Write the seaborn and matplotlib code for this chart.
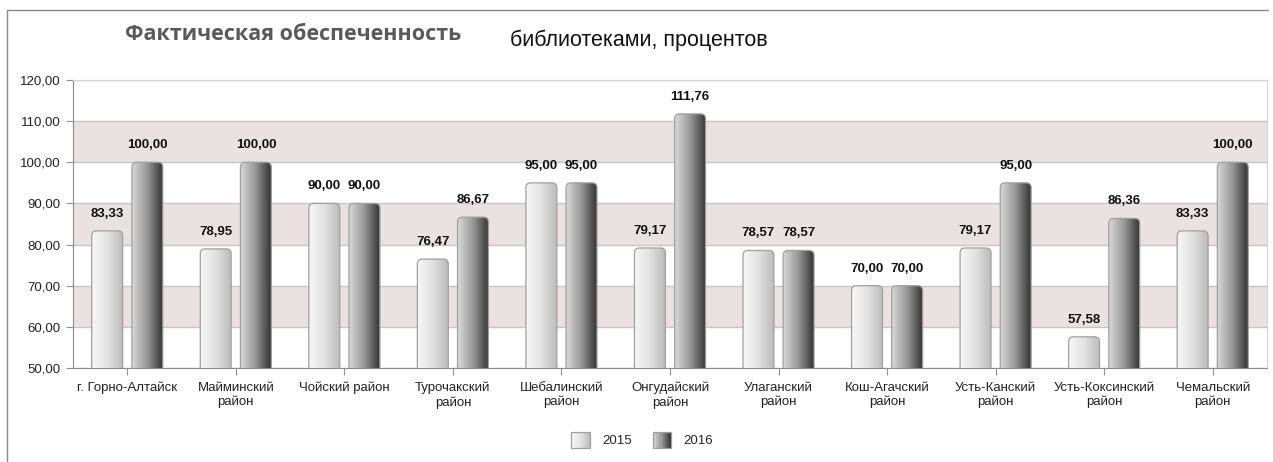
import numpy as np
import pandas as pd
import matplotlib.pyplot as plt
import seaborn as sns
from matplotlib.patches import FancyBboxPatch, Rectangle
from matplotlib.colors import LinearSegmentedColormap
from matplotlib.legend_handler import HandlerBase
from matplotlib.lines import Line2D
from matplotlib.ticker import FuncFormatter

# Data
districts = ['г. Горно-Алтайск', 'Майминский\nрайон', 'Чойский район', 'Турочакский\nрайон',
             'Шебалинский\nрайон', 'Онгудайский\nрайон', 'Улаганский\nрайон', 'Кош-Агачский\nрайон',
             'Усть-Канский\nрайон', 'Усть-Коксинский\nрайон', 'Чемальский\nрайон']
years = ['2015', '2016']
vals_2015 = [83.33, 78.95, 90.00, 76.47, 95.00, 79.17, 78.57, 70.00, 79.17, 57.58, 83.33]
vals_2016 = [100.00, 100.00, 90.00, 86.67, 95.00, 111.76, 78.57, 70.00, 95.00, 86.36, 100.00]

df = pd.DataFrame({
    'district': districts * 2,
    'year': [years[0]] * len(districts) + [years[1]] * len(districts),
    'value': vals_2015 + vals_2016,
})

sns.set_style('white')
plt.rcParams['font.family'] = ['Liberation Sans', 'DejaVu Sans']

# gradient colour maps for the two series
cmaps = [
    LinearSegmentedColormap.from_list('c2015', ['#f7f7f7', '#e2e2e2', '#bcbcbc']),
    LinearSegmentedColormap.from_list('c2016', ['#d8d8d8', '#969696', '#353535']),
]

W, H = 1273, 462
fig = plt.figure(figsize=(W / 100, H / 100), dpi=100)
ax = fig.add_axes([73 / W, 1 - 368 / H, (1267 - 73) / W, (368 - 80) / H])

sns.barplot(data=df, x='district', y='value', hue='year', palette=['#e0e0e0', '#707070'],
            width=0.74, gap=0.23, legend=False, ax=ax, zorder=3)

ax.set_xlim(-0.5, len(districts) - 0.5)
ax.set_ylim(50, 120)

# shaded bands + grid
for lo in [60, 80, 100]:
    ax.axhspan(lo, lo + 10, color='#eae2e2', zorder=0, lw=0)
for y in range(50, 121, 10):
    ax.axhline(y, color='#c6c6c6', lw=1, zorder=1)

# replace flat bars with rounded gradient bars
px_x = (1267 - 73) / len(districts)
px_y = (368 - 80) / 70
aspect = px_x / px_y
for i, cont in enumerate(ax.containers):
    for bar in cont:
        x, w, h = bar.get_x(), bar.get_width(), bar.get_height()
        bar.set_visible(False)
        patch = FancyBboxPatch((x, 0), w, h, boxstyle='round,pad=0,rounding_size=0.045',
                               mutation_aspect=aspect, fc='none', ec='#a0a0a0', lw=0.9, zorder=5)
        ax.add_patch(patch)
        grad = np.linspace(0, 1, 64).reshape(1, -1)
        im = ax.imshow(grad, extent=[x, x + w, 0, h], aspect='auto', cmap=cmaps[i],
                       zorder=4, interpolation='bicubic')
        im.set_clip_path(patch)
    vals = vals_2015 if i == 0 else vals_2016
    ax.bar_label(cont, labels=[f'{v:.2f}'.replace('.', ',') for v in vals], padding=8,
                 fontsize=9.5, fontweight='bold', color='#111111', zorder=6)

ax.set_xlim(-0.5, len(districts) - 0.5)
ax.set_ylim(50, 120)
ax.set_aspect('auto')

ax.yaxis.set_major_formatter(FuncFormatter(lambda v, p: f'{v:.2f}'.replace('.', ',')))
ax.set_yticks(range(50, 121, 10))
ax.tick_params(axis='y', left=True, length=5, color='#909090', labelsize=9.5, pad=4, labelcolor='#222222')
ax.tick_params(axis='x', bottom=True, length=5, color='#909090', labelsize=9.5, pad=5, labelcolor='#222222')
ax.set_xlabel('')
ax.set_ylabel('')

for s in ['left', 'bottom']:
    ax.spines[s].set_color('#8c8c8c')
for s in ['top', 'right']:
    ax.spines[s].set_color('#d4d4d4')


# legend with gradient swatches
class GradientHandler(HandlerBase):
    def __init__(self, cmap):
        super().__init__()
        self.cmap = cmap

    def create_artists(self, legend, orig_handle, xdescent, ydescent, width, height, fontsize, trans):
        n = 24
        arts = []
        for k in range(n):
            arts.append(Rectangle((-xdescent + k * width / n, -ydescent), width / n + 0.2, height,
                                  fc=self.cmap(k / (n - 1)), lw=0, transform=trans))
        arts.append(Rectangle((-xdescent, -ydescent), width, height, fc='none', ec='#a0a0a0',
                              lw=0.9, transform=trans))
        return arts


h1, h2 = Rectangle((0, 0), 1, 1), Rectangle((0, 0), 1, 1)
fig.legend([h1, h2], years, loc='center', bbox_to_anchor=(642 / W, 1 - 440 / H), ncol=2,
           frameon=False, fontsize=9.5, handlelength=1.4, handleheight=1.4, handletextpad=0.9,
           columnspacing=1.6, handler_map={h1: GradientHandler(cmaps[0]), h2: GradientHandler(cmaps[1])})

# title in two pieces
fig.text(125 / W, 1 - 34 / H, 'Фактическая обеспеченность', fontsize=15.5, fontweight='bold',
         color='#595959', va='center', ha='left', family=['Open Sans', 'DejaVu Sans'])
fig.text(510 / W, 1 - 40 / H, 'библиотеками, процентов', fontsize=15.5, color='#111111',
         va='center', ha='left')

# outer frame (top and left edges)
fig.add_artist(Line2D([7 / W, 7 / W], [0, 1 - 10 / H], transform=fig.transFigure, color='#8a8a8a', lw=1))
fig.add_artist(Line2D([7 / W, 1268 / W], [1 - 10 / H, 1 - 10 / H], transform=fig.transFigure,
                      color='#8a8a8a', lw=1))

plt.savefig('out.png', dpi=100)
